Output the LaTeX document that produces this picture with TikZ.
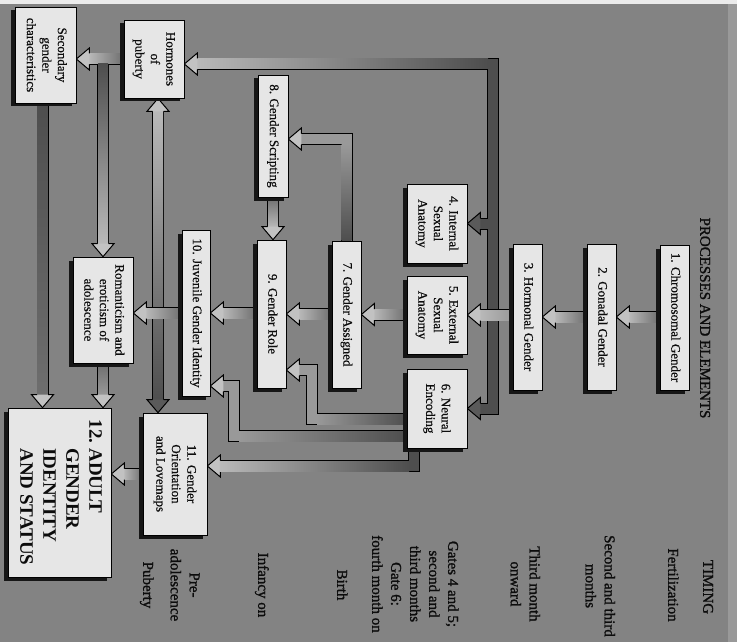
\documentclass[tikz,border=0pt]{standalone}
\usepackage{fontspec}
\setmainfont{Liberation Serif}
\newfontfamily\boxfont[FakeBold=0.6]{Liberation Serif}
\newfontfamily\timfont[FakeBold=1.3]{Liberation Serif}
\usetikzlibrary{calc,shadows}
\definecolor{bgc}{HTML}{838383}
\definecolor{face}{HTML}{E6E6E6}
\definecolor{shd}{HTML}{161616}
\definecolor{txt}{HTML}{0C0C0C}
\definecolor{dk}{HTML}{4E4E4E}
\definecolor{dkh}{HTML}{5A5A5A}
\definecolor{mdk}{HTML}{6E6E6E}
\definecolor{mid}{HTML}{999999}
\definecolor{lt}{HTML}{B9B9B9}
\definecolor{lth}{HTML}{C2C2C2}
\pgfdeclarelayer{back}\pgfdeclarelayer{arr}\pgfsetlayers{back,arr,main}
\newcommand\rt[1]{\rotatebox{-90}{\begin{tabular}{@{}c@{}}#1\end{tabular}}}
% arrow head: fill, tip, rotation
\newcommand\hd[3]{\begin{scope}[shift={#2},rotate=#3]\filldraw[fill=#1,draw=black,line width=1pt,line join=miter] (-13,5.5) -- (-13,11) -- (0,0) -- (-13,-11) -- (-13,-5.5);\end{scope}}
% leftward straight arrow: start, tip, colour at start, colour near tip, head colour
\newcommand\harr[5]{%
  \draw[line width=12pt] #1 -- ($#2+(12.5,0)$);
  \shade[left color=#4,right color=#3] ($#1+(0,-5)$) rectangle ($#2+(12.5,5)$);
  \hd{#5}{#2}{180}}
% downward straight arrow
\newcommand\varr[5]{%
  \draw[line width=12pt] #1 -- ($#2+(0,-12.5)$);
  \shade[top color=#3,bottom color=#4] ($#1+(-5,0)$) rectangle ($#2+(5,-12.5)$);
  \hd{#5}{#2}{270}}
% bent arrow: path, tip, fill, head colour, rotation
\newcommand\barr[5]{%
  \draw[line width=12pt,line join=miter,shorten >=12.5pt] #1;
  \draw[#3,line width=10pt,line join=miter,shorten >=12.5pt] #1;
  \hd{#4}{#2}{#5}}
\tikzset{
  box/.style={draw=black,line width=0.7pt,fill=face,inner sep=0pt,
    drop shadow={shadow xshift=-4pt,shadow yshift=-3.5pt,fill=shd,opacity=1},
    font=\boxfont\fontsize{13}{15.5}\selectfont,text=txt},
  tim/.style={inner sep=0pt,font=\timfont\fontsize{15}{19}\selectfont,text=txt}}
\begin{document}
\begin{tikzpicture}[x=1pt,y=-1pt]
\useasboundingbox (0,0) rectangle (737,642);
\begin{pgfonlayer}{back}
  \fill[bgc] (0,0) rectangle (737,642);
  \fill[black!8] (0,0) rectangle (737,4);
  \fill[black!40] (728,4) rectangle (737,642);
\end{pgfonlayer}
% boxes
\node[box,minimum width=29pt,minimum height=145pt] (b1) at (674.5,317.5) {\rt{1. Chromosomal Gender}};
\node[box,minimum width=29pt,minimum height=146pt] (b2) at (601.5,317) {\rt{2. Gonadal Gender}};
\node[box,minimum width=29pt,minimum height=146pt] (b3) at (527.5,317) {\rt{3. Hormonal Gender}};
\node[box,minimum width=60pt,minimum height=79pt] (b4) at (437,223.5) {\rt{4. Internal\\Sexual\\Anatomy}};
\node[box,minimum width=60pt,minimum height=78pt] (b5) at (437,315) {\rt{5. External\\Sexual\\Anatomy}};
\node[box,minimum width=60pt,minimum height=79pt] (b6) at (437,408.5) {\rt{6. Neural\\Encoding}};
\node[box,minimum width=29pt,minimum height=147pt] (b7) at (346.5,314.5) {\rt{7. Gender Assigned}};
\node[box,minimum width=30pt,minimum height=122pt] (b8) at (273,136) {\rt{8. Gender Scripting}};
\node[box,minimum width=29pt,minimum height=148pt] (b9) at (271.5,314) {\rt{9. Gender Role}};
\node[box,minimum width=28pt,minimum height=166pt] (b10) at (196,313) {\rt{10. Juvenile Gender Identity}};
\node[box,minimum width=60pt,minimum height=106pt] (bR) at (103,310) {\rt{Romanticism and\\eroticism of\\adolescence}};
\node[box,minimum width=60pt,minimum height=78pt] (bH) at (154,59) {\rt{Hormones\\of\\puberty}};
\node[box,minimum width=61pt,minimum height=96pt] (bS) at (45.5,55) {\rt{Secondary\\gender\\characteristics}};
\node[box,minimum width=64pt,minimum height=122pt] (b11) at (175,474) {\rt{11. Gender\\Orientation\\and Lovemaps}};
\node[box,minimum width=103pt,minimum height=169pt,font=\bfseries\fontsize{19}{23}\selectfont] (b12) at (59.5,492.5)
  {\rotatebox{-90}{\begin{tabular}{@{}l@{\hspace{5pt}}l@{}}12.&ADULT\\&GENDER\\&IDENTITY\\&AND STATUS\end{tabular}}};
% titles and timing
\node[tim] (title) at (704,318) {\rt{PROCESSES AND ELEMENTS}};
\node[tim] (tT) at (707,587) {\rt{TIMING}};
\node[tim] (tF) at (672,585) {\rt{Fertilization}};
\node[tim] (tS) at (599,586) {\rt{Second and third\\months}};
\node[tim] (tTh) at (524,584) {\rt{Third month\\onward}};
\node[tim] (tG) at (414,584) {\rt{Gates 4 and 5;\\second and\\third months\\Gate 6:\\fourth month on}};
\node[tim] (tB) at (341,585) {\rt{Birth}};
\node[tim] (tI) at (262,585) {\rt{Infancy on}};
\node[tim] (tP) at (184,585) {\rt{Pre-\\adolescence}};
\node[tim] (tPu) at (147,585) {\rt{Puberty}};
% connectors
\begin{pgfonlayer}{arr}
  % bar from hormonal gender
  \coordinate (barT) at (493,64);
  \coordinate (barB) at (barT |- b6.east);
  \coordinate (bar4) at (barT |- b4.east);
  \coordinate (tH) at (bH.east |- barT);
  \draw[line width=12pt,line join=miter,shorten >=12.5pt] (barB) -- (barT) -- (tH);
  \draw[line width=12pt,line join=miter,shorten >=12.5pt] (barT) -- (barB) -- (b6.east);
  \draw[line width=12pt,shorten >=12.5pt] (bar4) -- (b4.east);
  \draw[dk,line width=10pt,line join=miter,shorten >=12.5pt] (barB) -- (barT) -- (tH);
  \draw[dk,line width=10pt,line join=miter,shorten >=12.5pt] (barT) -- (barB) -- (b6.east);
  \draw[dk,line width=10pt,shorten >=12.5pt] (bar4) -- (b4.east);
  \shade[left color=lt,right color=dk] ($(tH)+(12.5,-5)$) rectangle ($(barT)+(-5,5)$);
  \hd{lth}{(tH)}{180}
  \hd{dkh}{(b6.east)}{180}
  \hd{dkh}{(b4.east)}{180}
  % chain 1-2-3-5
  \harr{(b1.west |- b2.east)}{(b2.east)}{mdk}{lt}{lth}
  \harr{(b2.west |- b3.east)}{(b3.east)}{mdk}{lt}{lth}
  \harr{(b3.west |- b5.east)}{(b5.east)}{mid}{lt}{lth}
  \harr{(b5.west |- b7.east)}{(b7.east)}{mdk}{lt}{lth}
  \harr{(b7.west |- b9.east)}{(b9.east)}{mdk}{lt}{lth}
  \harr{(b9.west |- b10.east)}{(b10.east)}{mdk}{lt}{lth}
  \varr{(b8.south)}{(b8.south |- b9.north)}{mdk}{lt}{lth}
  % 7 -> 8
  \coordinate (t8) at ($(b8.east)+(0,3)$);
  \barr{(b7.north) |- (t8)}{(t8)}{mid}{lth}{180}
  \shade[top color=mid,bottom color=dk] ($(b7.north)+(-5,0)$) rectangle ($(b7.north |- t8)+(5,5)$);
  % 6 -> 9
  \coordinate (s9) at ($(b6.west)+(0,10.5)$);
  \coordinate (m9) at (312,370);
  \coordinate (t9) at (b9.east |- m9);
  \barr{(s9) -| (m9) -- (t9)}{(t9)}{mid}{lth}{180}
  \shade[left color=mid,right color=dk] ($(m9 |- s9)+(5,-5)$) rectangle ($(s9)+(0,5)$);
  % 6 -> 10
  \coordinate (s10) at ($(b6.west)+(0,27.5)$);
  \coordinate (m10) at (234,386);
  \coordinate (t10) at (b10.east |- m10);
  \barr{(s10) -| (m10) -- (t10)}{(t10)}{mid}{lth}{180}
  \shade[left color=mid,right color=dk] ($(m10 |- s10)+(5,-5)$) rectangle ($(s10)+(0,5)$);
  % 6 -> 11
  \coordinate (s11) at ($(b6.south)+(-23,0)$);
  \coordinate (t11) at ($(b11.east)+(0,-8)$);
  \barr{(s11) |- (t11)}{(t11)}{dk}{lth}{180}
  \shade[left color=lt,right color=dk] ($(t11)+(12.5,-5)$) rectangle ($(s11 |- t11)+(-5,5)$);
  % hormones of puberty <-> 11
  \coordinate (dT) at ($(bH.south)+(4,0)$);
  \coordinate (dB) at (dT |- b11.north);
  \draw[line width=12pt] ($(dT)+(0,12.5)$) -- ($(dB)+(0,-12.5)$);
  \shade[top color=lt,bottom color=dk] ($(dT)+(-5,12.5)$) rectangle ($(dB)+(5,-12.5)$);
  \hd{lth}{(dT)}{90}
  \hd{dkh}{(dB)}{270}
  % 10 -> romanticism
  \harr{(b10.west)}{(bR.east |- b10.west)}{mdk}{lt}{lth}
  % hormones -> secondary, hormones -> romanticism
  \coordinate (tS) at (bS.east |- bH.west);
  \coordinate (q2) at (bR.north |- bH.west);
  \draw[line width=12pt] (q2) -- ($(bR.north)+(0,-12.5)$);
  \draw[line width=12pt] (bH.west) -- ($(tS)+(12.5,0)$);
  \shade[left color=lt,right color=mdk] ($(tS)+(12.5,-5)$) rectangle ($(bH.west)+(0,5)$);
  \shade[top color=dk,bottom color=lt] ($(q2)+(-5,4.5)$) rectangle ($(bR.north)+(5,-12.5)$);
  \hd{lth}{(tS)}{180}
  \hd{lth}{(bR.north)}{270}
  % into 12
  \coordinate (sS) at ($(bS.south)+(-3,0)$);
  \varr{(sS)}{(sS |- b12.north)}{dk}{mdk}{lth}
  \varr{(bR.south)}{(bR.south |- b12.north)}{mdk}{mid}{lth}
  \harr{(b11.west)}{(b12.east |- b11.west)}{mdk}{lt}{lth}
\end{pgfonlayer}
\end{tikzpicture}
\end{document}
